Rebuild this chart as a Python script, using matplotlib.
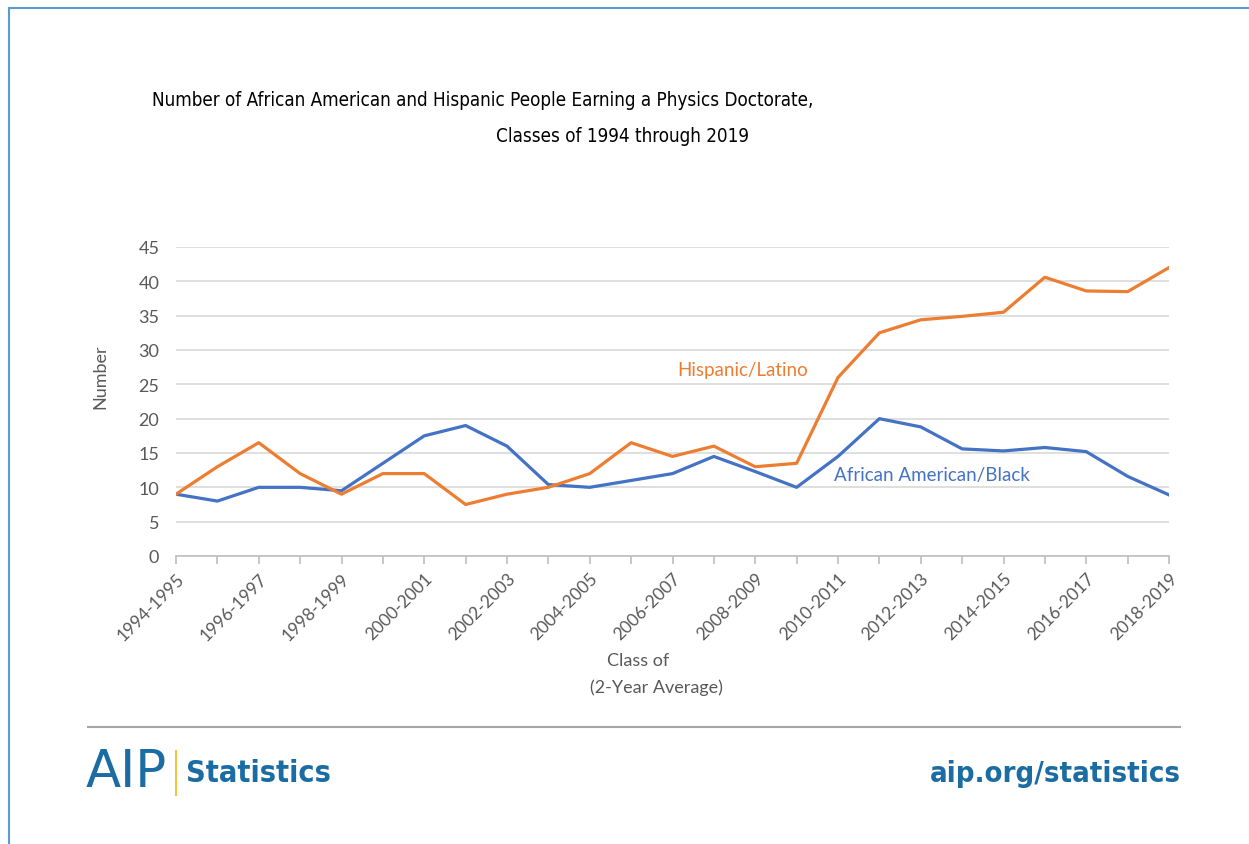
import matplotlib.pyplot as plt
from matplotlib.lines import Line2D

# class years, two-year averages
classes = ['%d-%d' % (y, y + 1) for y in range(1994, 2019)]
black = [9, 8, 10, 10, 9.5, 13.5, 17.5, 19, 16, 10.4, 10, 11, 12, 14.5, 12.3,
         10, 14.5, 20, 18.8, 15.6, 15.3, 15.8, 15.2, 11.6, 8.9]
hispanic = [9, 13, 16.5, 12, 9, 12, 12, 7.5, 9, 10, 12, 16.5, 14.5, 16, 13,
            13.5, 26, 32.5, 34.4, 34.9, 35.5, 40.6, 38.6, 38.5, 42]
yticks = [0, 5, 10, 15, 20, 25, 30, 35, 40, 45]

W, H = 1249, 845
fig = plt.figure(figsize=(W / 100, H / 100), dpi=100)
fig.patch.set_facecolor('white')

def fx(px):
    return px / W

def fy(py):
    return 1 - py / H

ax = fig.add_axes([fx(176), fy(557), fx(1169) - fx(176), fy(248) - fy(557)])

x = list(range(len(classes)))
ax.plot(x, black, color='#4472c4', lw=2.3, solid_joinstyle='round', zorder=3)
ax.plot(x, hispanic, color='#ed7d31', lw=2.3, solid_joinstyle='round', zorder=3)

ax.set_xlim(0, len(classes) - 1)
ax.set_ylim(0, 45)
ax.set_yticks(yticks)
ax.yaxis.grid(True, color='#d9d9d9', lw=1.2)
ax.set_axisbelow(True)
for s in ['top', 'right', 'left']:
    ax.spines[s].set_visible(False)
ax.spines['bottom'].set_color('#bfbfbf')
ax.spines['bottom'].set_linewidth(1.2)

lab_font = ['Lato', 'DejaVu Sans']
ax.set_xticks(x)
ax.set_xticklabels([c if i % 2 == 0 else '' for i, c in enumerate(classes)],
                   rotation=45, ha='right', rotation_mode='anchor',
                   fontsize=12.5, color='#595959', family=lab_font)
ax.tick_params(axis='x', length=6, width=1.2, color='#bfbfbf', pad=4)
ax.tick_params(axis='y', length=0, pad=12, labelsize=13, labelcolor='#595959')
for t in ax.get_yticklabels():
    t.set_family(lab_font)

ax.text(13.7, 27.2, 'Hispanic/Latino', color='#ed7d31', fontsize=13.5,
        family=lab_font, ha='center', va='center')
ax.text(18.27, 11.8, 'African American/Black', color='#4472c4', fontsize=13.5,
        family=lab_font, ha='center', va='center')

fig.text(fx(100), fy(377), 'Number', rotation=90, ha='center', va='center',
         fontsize=13, color='#595959', family=lab_font)
fig.text(fx(638), fy(661), 'Class of', ha='center', va='center',
         fontsize=13, color='#595959', family=lab_font)
fig.text(fx(656), fy(688), '(2-Year Average)', ha='center', va='center',
         fontsize=13, color='#595959', family=lab_font)

# title, condensed face
cond = dict(family=['DejaVu Sans'], stretch='condensed')
fig.text(fx(483), fy(101), 'Number of African American and Hispanic People Earning a Physics Doctorate,',
         ha='center', va='center', fontsize=13.5, color='black', **cond)
fig.text(fx(623), fy(137), 'Classes of 1994 through 2019',
         ha='center', va='center', fontsize=13.5, color='black', **cond)

# footer
aip_blue = '#1b6ca3'
fig.add_artist(Line2D([fx(88), fx(1180)], [fy(728), fy(728)], color='#a6a6a6', lw=1.5))
fig.text(fx(86), fy(773), 'AIP', ha='left', va='center', fontsize=37,
         color=aip_blue, family=['DejaVu Sans'])
fig.add_artist(Line2D([fx(176), fx(176)], [fy(752), fy(796)], color='#f5c242', lw=1.5))
fig.text(fx(186), fy(774), 'Statistics', ha='left', va='center', fontsize=22,
         color=aip_blue, weight='bold', **cond)
fig.text(fx(1181), fy(774), 'aip.org/statistics', ha='right', va='center', fontsize=21,
         color=aip_blue, weight='bold', **cond)

# frame edges
fig.add_artist(Line2D([fx(9), fx(9)], [fy(9), 0], color='#5b9bd5', lw=1.5))
fig.add_artist(Line2D([fx(9), 1], [fy(9), fy(9)], color='#5b9bd5', lw=1.5))

plt.savefig('out.png', dpi=100)
